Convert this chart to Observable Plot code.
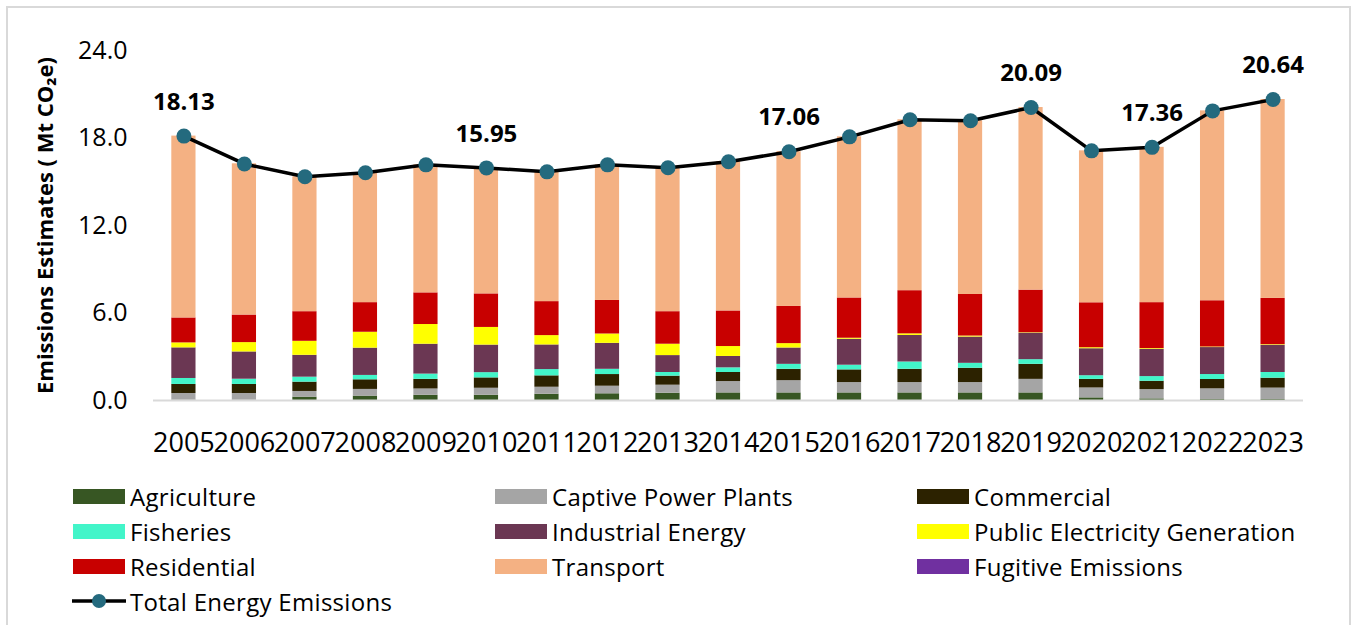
<!DOCTYPE html>
<html>
<head>
<meta charset="utf-8">
<script src="https://cdn.jsdelivr.net/npm/d3@7"></script>
<script src="https://cdn.jsdelivr.net/npm/@observablehq/plot@0.6"></script>
<style>
  html, body { margin: 0; padding: 0; background: #fff; }
  #wrap { position: relative; width: 1357px; height: 625px; overflow: hidden; font-family: "Open Sans", sans-serif; }
  #border { position: absolute; left: 6px; top: 6px; width: 1341px; height: 640px; border: 2px solid #d9d9d9; }
  #chart { position: absolute; left: 0; top: 0; }
  #legend { position: absolute; left: 0; top: 0; width: 1357px; height: 625px; }
  .item { position: absolute; display: flex; align-items: center; height: 30px; font-size: 24px; letter-spacing: 0.3px; color: #000; white-space: nowrap; }
  .sw { width: 52px; height: 15px; margin-right: 5px; }
</style>
</head>
<body>
<div id="wrap">
  <div id="border"></div>
  <div id="chart"></div>
  <div id="legend"></div>
</div>
<script>
const years = ["2005","2006","2007","2008","2009","2010","2011","2012","2013","2014","2015","2016","2017","2018","2019","2020","2021","2022","2023"];

const sectors = ["Agriculture","Captive Power Plants","Commercial","Fisheries","Industrial Energy","Public Electricity Generation","Residential","Transport","Fugitive Emissions"];
const sectorColors = ["#375623","#a5a5a5","#2c2200","#42f5c9","#6b3753","#ffff00","#c80000","#f4b183","#7030a0"];

const agriculture  = [0.02,0.02,0.23,0.30,0.36,0.36,0.43,0.46,0.50,0.52,0.52,0.52,0.52,0.52,0.52,0.18,0.11,0.07,0.07];
const captive      = [0.46,0.46,0.39,0.46,0.43,0.48,0.48,0.52,0.55,0.78,0.84,0.71,0.71,0.71,0.93,0.68,0.64,0.73,0.78];
const commercial   = [0.62,0.62,0.64,0.66,0.66,0.71,0.78,0.80,0.62,0.62,0.78,0.87,0.91,0.98,1.03,0.59,0.57,0.64,0.68];
const fisheries    = [0.41,0.36,0.34,0.30,0.36,0.36,0.43,0.36,0.25,0.32,0.34,0.32,0.50,0.34,0.32,0.25,0.32,0.34,0.39];
const industrial   = [2.10,1.87,1.50,1.87,2.05,1.89,1.69,1.78,1.16,0.78,1.12,1.78,1.82,1.80,1.82,1.85,1.87,1.85,1.87];
const publicElec   = [0.34,0.64,0.96,1.09,1.35,1.21,0.64,0.64,0.78,0.68,0.30,0.07,0.11,0.07,0.03,0.07,0.05,0.04,0.04];
const residential  = [1.71,1.89,2.03,2.03,2.17,2.30,2.33,2.30,2.23,2.44,2.55,2.76,2.96,2.85,2.92,3.08,3.15,3.17,3.17];
const transport    = [12.47,10.37,9.25,8.91,8.78,8.64,8.90,9.30,9.87,10.23,10.61,11.05,11.72,11.91,12.52,10.42,10.65,13.02,13.64];
const fugitive     = [0,0,0,0,0,0,0,0,0,0,0,0,0,0,0,0,0,0,0];

const totals = [18.13,16.22,15.34,15.62,16.16,15.95,15.68,16.16,15.96,16.37,17.06,18.08,19.25,19.18,20.09,17.12,17.36,19.86,20.64];
const labeledYears = ["2005","2010","2015","2019","2021","2023"];

const yTicks = [0, 6, 12, 18, 24];
const yLabel = "Emissions Estimates ( Mt CO\u2082e)";
const totalName = "Total Energy Emissions";
const lineColor = "#000000";
const dotColor = "#246a7e";

const seriesValues = [agriculture, captive, commercial, fisheries, industrial, publicElec, residential, transport, fugitive];
const stacked = [];
sectors.forEach((s, i) => {
  years.forEach((y, j) => stacked.push({year: y, sector: s, value: seriesValues[i][j]}));
});
const totalData = years.map((y, j) => ({year: y, total: totals[j]}));

const chart = Plot.plot({
  width: 1357,
  height: 460,
  marginLeft: 135,
  marginRight: 36,
  marginTop: 50,
  marginBottom: 60,
  style: {fontFamily: "'Open Sans', sans-serif", background: "transparent", color: "#000"},
  x: {domain: years, padding: 0.6, round: false, label: null},
  y: {domain: [0, 24], label: null},
  color: {domain: sectors, range: sectorColors},
  marks: [
    Plot.barY(stacked, {x: "year", y: "value", fill: "sector", order: sectors}),
    Plot.ruleY([0], {stroke: "#d9d9d9", strokeWidth: 2, insetLeft: 18, insetRight: 18}),
    Plot.axisX({tickSize: 0, tickPadding: 32, fontSize: 27, label: null}),
    Plot.axisY({ticks: yTicks, tickFormat: d3.format(".1f"), tickSize: 0, tickPadding: 8, fontSize: 25, label: null}),
    Plot.line(totalData, {x: "year", y: "total", stroke: lineColor, strokeWidth: 3.5}),
    Plot.dot(totalData, {x: "year", y: "total", r: 7.5, fill: dotColor, stroke: "none"}),
    Plot.text(totalData.filter(d => labeledYears.includes(d.year)), {x: "year", y: "total", text: d => d.total.toFixed(2), dy: -34, fontSize: 24, fontWeight: "bold", fill: "#000"}),
    Plot.text([yLabel], {frameAnchor: "left", textAnchor: "middle", rotate: -90, dx: -90, fontSize: 22, fontWeight: "bold", fill: "#000"})
  ]
});
document.getElementById("chart").appendChild(chart);

// Legend
const legend = document.getElementById("legend");
const colX = [73, 495, 917];
const rowY = [496, 531, 566, 601];
sectors.forEach((s, i) => {
  const col = i % 3, row = Math.floor(i / 3);
  const it = document.createElement("div");
  it.className = "item";
  it.style.left = colX[col] + "px";
  it.style.top = (rowY[row] - 15) + "px";
  const sw = document.createElement("div");
  sw.className = "sw";
  sw.style.background = sectorColors[i];
  it.appendChild(sw);
  const t = document.createElement("span");
  t.textContent = s;
  it.appendChild(t);
  legend.appendChild(it);
});
const tot = document.createElement("div");
tot.className = "item";
tot.style.left = (colX[0] - 2) + "px";
tot.style.top = (rowY[3] - 15) + "px";
tot.innerHTML = `<svg width="56" height="20" style="margin-right:3px"><line x1="1" y1="10" x2="55" y2="10" stroke="${lineColor}" stroke-width="3.5"/><circle cx="28" cy="10" r="7" fill="${dotColor}"/></svg><span>${totalName}</span>`;
legend.appendChild(tot);
</script>
</body>
</html>
